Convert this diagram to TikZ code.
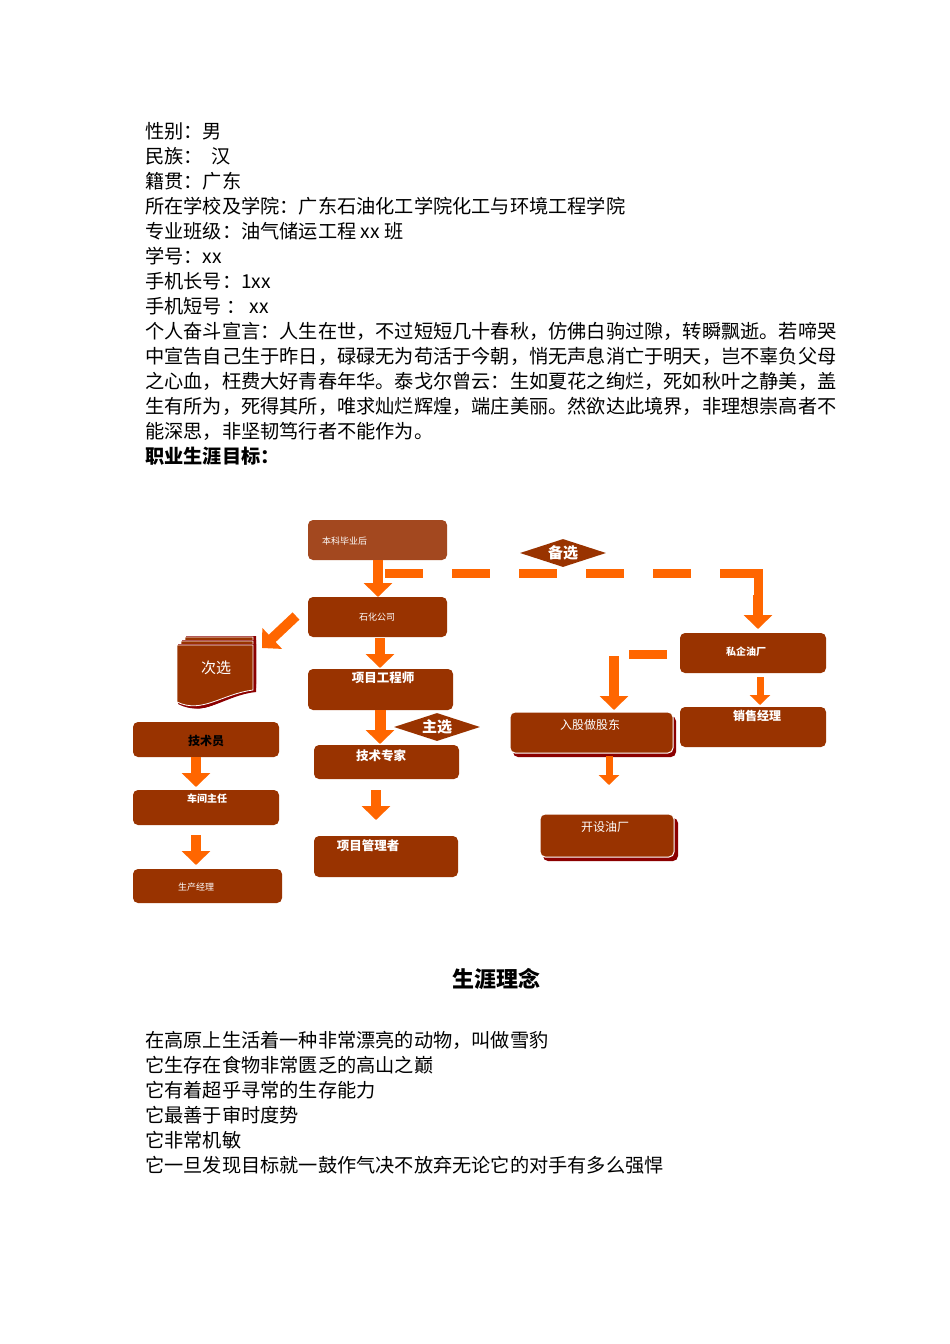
\documentclass[tikz,border=0pt]{standalone}
\usepackage{fontspec}
\setmainfont{Noto Sans CJK SC}
\usetikzlibrary{arrows.meta,shapes.geometric,shapes.symbols}
\definecolor{brn}{HTML}{993300}
\definecolor{lbrn}{HTML}{A3481F}
\definecolor{org}{HTML}{FF6600}
\definecolor{dred}{HTML}{8B0000}
\tikzset{
 bx/.style={fill=brn,rounded corners=5pt,draw=none},
 bt/.style={text=white,font=\bfseries\fontsize{11}{12}\selectfont,inner sep=0pt},
 ln/.style={anchor=west,inner sep=0pt,font=\fontsize{19.2}{20}\selectfont},
 ar/.style={org,line width=10pt,-{Triangle[width=28pt,length=14pt]}},
 ds/.style={org,line width=9pt,dash pattern=on 38pt off 29pt},
 dm/.style={diamond,fill=brn,aspect=3,inner sep=0pt,minimum width=86pt,minimum height=28pt,text=white,font=\bfseries\fontsize{15}{16}\selectfont},
}
\begin{document}
\begin{tikzpicture}[x=1pt,y=-1pt]
\useasboundingbox (0,0) rectangle (950,1344);
\fill[white] (0,0) rectangle (950,1344);
% header text
\foreach \t [count=\i] in {性别：男,民族：\ \ 汉,籍贯：广东,所在学校及学院：广东石油化工学院化工与环境工程学院,专业班级：油气储运工程 xx 班,学号：xx,手机长号：1xx,手机短号\ ：\ xx,个人奋斗宣言：人生在世，不过短短几十春秋，仿佛白驹过隙，转瞬飘逝。若啼哭,中宣告自己生于昨日，碌碌无为苟活于今朝，悄无声息消亡于明天，岂不辜负父母,之心血，枉费大好青春年华。泰戈尔曾云：生如夏花之绚烂，死如秋叶之静美，盖,生有所为，死得其所，唯求灿烂辉煌，端庄美丽。然欲达此境界，非理想崇高者不,能深思，非坚韧笃行者不能作为。}
  \node[ln] (h\i) at (145,{106+25*\i}) {\t};
\node[ln,font=\bfseries\fontsize{19.2}{20}\selectfont] (goal) at (145,456) {职业生涯目标：};
% boxes
\fill[lbrn,rounded corners=5pt] (308,520) rectangle (447,560);
\node[bt,font=\fontsize{9}{10}\selectfont,anchor=west] (b0) at (322,541) {本科毕业后};
\fill[bx] (308,597) rectangle (447,637); \node[bt,font=\fontsize{9}{10}\selectfont] (b1) at (377,617) {石化公司};
\fill[bx] (308,669) rectangle (453,710); \node[bt,font=\bfseries\fontsize{12.5}{13}\selectfont] (b2) at (383,678) {项目工程师};
\fill[bx] (314,745) rectangle (459,779); \node[bt,font=\bfseries\fontsize{12.5}{13}\selectfont] (b3) at (381,756) {技术专家};
\fill[bx] (314,836) rectangle (458,877); \node[bt,font=\bfseries\fontsize{12.5}{13}\selectfont] (b4) at (368,846) {项目管理者};
\fill[bx] (133,722) rectangle (279,757); \node[bt,text=black,font=\bfseries\fontsize{12}{13}\selectfont] (l1) at (206,741) {技术员};
\fill[bx] (133,790) rectangle (279,825); \node[bt,font=\bfseries\fontsize{10}{11}\selectfont] (l2) at (207,799) {车间主任};
\fill[bx] (133,869) rectangle (282,903); \node[bt,font=\fontsize{9}{10}\selectfont] (l3) at (196,887) {生产经理};
\fill[bx] (680,633) rectangle (826,673); \node[bt,font=\bfseries\fontsize{10}{11}\selectfont] (r1) at (746,652) {私企油厂};
\fill[bx] (680,707) rectangle (826,747); \node[bt,font=\bfseries\fontsize{12}{13}\selectfont] (r2) at (757,716) {销售经理};
\fill[dred,rounded corners=5pt] (513,716) rectangle (676,757);
\fill[bx,draw=white,line width=1pt] (510,712) rectangle (673,753); \node[bt,font=\fontsize{12}{13}\selectfont] (r3) at (590,725) {入股做股东};
\fill[dred,rounded corners=5pt] (543,818) rectangle (678,861);
\fill[bx,draw=white,line width=1pt] (540,814) rectangle (674,857); \node[bt,font=\fontsize{12}{13}\selectfont] (r4) at (605,827) {开设油厂};
% document stack
\foreach \d in {8,4,0}{
 \fill[dred] (178+\d,644-\d) -- (256,644-\d) -- (256,692-\d) .. controls (225,695) and (205,718) .. (178+\d,704) -- cycle;
 \fill[brn,draw=white,line width=0.8pt] (178+\d-1,644-\d+1) -- (253,644-\d+1) -- (253,690-\d) .. controls (222,694) and (202,714) .. (177+\d,702) -- cycle;
}
\node[bt,font=\fontsize{15}{16}\selectfont] (ci) at (216,668) {次选};
% diamonds
\node[dm] (d1) at (563,553) {备选};
\node[dm] (d2) at (437,727) {主选};
% arrows
\draw[ds] (385,573) -- (742,573);
\draw[ar] (378,560) -- (378,597);
\draw[org,line width=9pt] (721,573) -- (758,573) -- (758,600);
\draw[ar] (758,595) -- (758,629);
\draw[ds,dash pattern=on 38pt off 10pt] (667,654) -- (629,654);
\draw[ar] (614,656) -- (614,710);
\draw[ar] (296,616) -- (262,648);
\draw[ar] (380,638) -- (380,668);
\draw[ar,line width=11pt] (380,710) -- (380,744);
\draw[ar] (376,790) -- (376,820);
\draw[ar] (196,757) -- (196,787);
\draw[ar] (196,835) -- (196,865);
\draw[ar,line width=7pt,-{Triangle[width=20pt,length=10pt]}] (760,677) -- (760,705);
\draw[ar,line width=7pt,-{Triangle[width=20pt,length=10pt]}] (609,756) -- (609,785);
% bottom text
\node[font=\bfseries\fontsize{22}{24}\selectfont,inner sep=0pt] (title) at (496,979) {生涯理念};
\foreach \t [count=\i] in {在高原上生活着一种非常漂亮的动物，叫做雪豹,它生存在食物非常匮乏的高山之巅,它有着超乎寻常的生存能力,它最善于审时度势,它非常机敏,它一旦发现目标就一鼓作气决不放弃无论它的对手有多么强悍}
  \node[ln] (f\i) at (145,{1015+25*\i}) {\t};
\end{tikzpicture}
\end{document}
